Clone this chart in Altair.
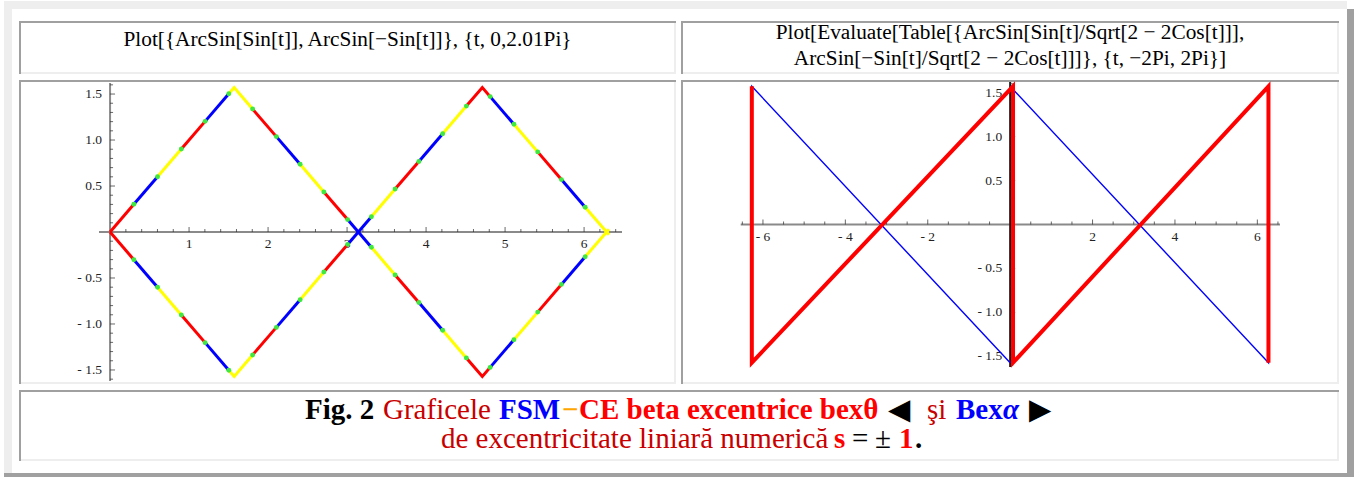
import altair as alt
import pandas as pd

FONT = "Liberation Serif"

# ---------------- panel 1: ArcSin[Sin[t]] and ArcSin[-Sin[t]], t in [0, 2.01 Pi] ----------------
# mesh points (green dots) splitting each curve into 21 shaded pieces
MESH_T = [0.301, 0.601, 0.902, 1.203, 1.503, 1.804, 2.105, 2.406, 2.706, 3.007,
          3.308, 3.608, 3.909, 4.210, 4.510, 4.811, 5.112, 5.413, 5.713, 6.014]
MESH_Y1 = [0.301, 0.601, 0.902, 1.203, 1.503, 1.337, 1.037, 0.736, 0.435, 0.135,
           -0.166, -0.467, -0.767, -1.068, -1.369, -1.472, -1.171, -0.871, -0.570, -0.269]
MESH_Y2 = [-0.301, -0.601, -0.902, -1.203, -1.503, -1.337, -1.037, -0.736, -0.435, -0.135,
           0.166, 0.467, 0.767, 1.068, 1.369, 1.472, 1.171, 0.871, 0.570, 0.269]
# start, corners and end of the two triangle waves
CORNER_T = [0.0, 1.571, 4.712, 6.315]
CORNER_Y1 = [0.0, 1.571, -1.571, 0.031]
CORNER_Y2 = [0.0, -1.571, 1.571, -0.031]
SHADES = ["#ff0000", "#0000ff", "#ffff00"]

P1_XTICKS = [1, 2, 3, 4, 5, 6]
P1_YTICKS = [-1.5, -1.0, -0.5, 0.5, 1.0, 1.5]

# ---------------- panel 2: ArcSin[+/-Sin[t]/Sqrt[2 - 2Cos[t]]], t in [-2Pi, 2Pi] ----------------
# blue: two descending branches (piece 0 and piece 1)
P2_T_BLUE = [-6.27, -6.27, 0.0, 0.0, 6.27, 6.27]
P2_BLUE = [-1.571, 1.571, -1.571, 1.571, -1.571, 1.571]
P2_BLUE_PIECE = [0, 0, 0, 1, 1, 1]
# red: rising branches joined by vertical jumps
P2_T_RED = [-6.27, -6.27, 0.07, 0.07, 6.27, 6.27]
P2_RED = [1.571, -1.571, 1.571, -1.571, 1.571, -1.571]
P2_XTICKS = [-6, -4, -2, 2, 4, 6]
P2_YTICKS = [-1.5, -1.0, -0.5, 0.5, 1.0, 1.5]

# ---------------- texts ----------------
HEADER_1 = ["Plot[{ArcSin[Sin[t]], ArcSin[\u2212Sin[t]]}, {t, 0,2.01Pi}"]
HEADER_2 = ["Plot[Evaluate[Table[{ArcSin[Sin[t]/Sqrt[2 \u2212 2Cos[t]]],",
            "ArcSin[\u2212Sin[t]/Sqrt[2 \u2212 2Cos[t]]]}, {t, \u22122Pi, 2Pi}]"]

CAPTION_1 = ["Fig. 2", "Graficele", "FSM", "\u2212", "CE beta excentrice bex\u03b8",
             "\u25c0", "\u015fi", "Bex", "\u03b1", "\u25b6"]
CAPTION_2 = ["de excentricitate liniar\u0103 numeric\u0103", "s", "=", "\u00b1", "1", "."]

RED, DARKRED, BLUE, BLACK, ORANGE = "#ff0000", "#c80000", "#0000ff", "#000000", "#ffa500"
# (colour, weight, style, left x) for each caption run
CAP1_STYLE = [(BLACK, "bold", "normal", 305), (DARKRED, "normal", "normal", 383),
              (BLUE, "bold", "normal", 499), (ORANGE, "bold", "normal", 562),
              (RED, "bold", "normal", 579), (BLACK, "normal", "normal", 888),
              (DARKRED, "normal", "normal", 927), (BLUE, "bold", "normal", 956),
              (BLUE, "bold", "italic", 1003), (BLACK, "normal", "normal", 1029)]
CAP2_STYLE = [(DARKRED, "normal", "normal", 441), (RED, "bold", "normal", 834),
              (BLACK, "normal", "normal", 852), (BLACK, "normal", "normal", 875),
              (RED, "bold", "normal", 899), (BLACK, "bold", "normal", 915)]
CAP_BASE = [419, 448]

W, H = 1354, 477
LIGHT, DARK = "#eeeeee", "#a0a0a0"
TICK = "#2a2a2a"
AXIS_GREY = "#8a8a8a"
LABEL_SIZE = 13.5


def signed(v, digits):
    s = f"{abs(v):.{digits}f}"
    return "- " + s if v < 0 else s


def minor(lo, hi, step, major_every):
    return [round(i * step, 3) for i in range(lo, hi + 1) if i != 0 and i % major_every != 0]


def axes_layers(xs, ys, xdom, ydom, xticks, yticks, xdig, ydig, xminor, yminor, ycolor):
    """Axes through the origin: lines, inward ticks and labels, all placed by the scales."""
    xline = pd.DataFrame({"a": [xdom[0]], "b": [xdom[1]], "zero": [0.0]})
    yline = pd.DataFrame({"a": [ydom[0]], "b": [ydom[1]], "zero": [0.0]})
    layers = [
        alt.Chart(xline).mark_rule(color=AXIS_GREY, strokeWidth=2).encode(
            x=alt.X("a:Q", scale=xs, axis=None), x2="b:Q",
            y=alt.Y("zero:Q", scale=ys, axis=None)),
        alt.Chart(yline).mark_rule(color=ycolor, strokeWidth=2).encode(
            y=alt.Y("a:Q", scale=ys, axis=None), y2="b:Q",
            x=alt.X("zero:Q", scale=xs, axis=None)),
    ]
    for vals, size in [(xticks, 5), (xminor, 3)]:
        df = pd.DataFrame({"v": vals, "zero": 0.0})
        layers.append(alt.Chart(df).mark_tick(orient="vertical", size=size, thickness=1,
                                              yOffset=-size / 2, color=TICK).encode(
            x=alt.X("v:Q", scale=xs, axis=None), y=alt.Y("zero:Q", scale=ys, axis=None)))
    for vals, size in [(yticks, 5), (yminor, 3)]:
        df = pd.DataFrame({"v": vals, "zero": 0.0})
        layers.append(alt.Chart(df).mark_tick(orient="horizontal", size=size, thickness=1,
                                              xOffset=size / 2, color=TICK).encode(
            y=alt.Y("v:Q", scale=ys, axis=None), x=alt.X("zero:Q", scale=xs, axis=None)))
    xl = pd.DataFrame({"v": xticks, "zero": 0.0, "lab": [signed(v, xdig) for v in xticks]})
    yl = pd.DataFrame({"v": yticks, "zero": 0.0, "lab": [signed(v, ydig) for v in yticks]})
    layers.append(alt.Chart(xl).mark_text(font=FONT, fontSize=LABEL_SIZE, color="#222222",
                                          align="center", baseline="top", dy=5).encode(
        x=alt.X("v:Q", scale=xs, axis=None), y=alt.Y("zero:Q", scale=ys, axis=None),
        text="lab:N"))
    layers.append(alt.Chart(yl).mark_text(font=FONT, fontSize=LABEL_SIZE, color="#222222",
                                          align="right", baseline="middle", dx=-8).encode(
        y=alt.Y("v:Q", scale=ys, axis=None), x=alt.X("zero:Q", scale=xs, axis=None),
        text="lab:N"))
    return layers


# ---------------- panel 1 ----------------
X1_DOM, Y1_DOM = [-0.14, 6.48], [-1.62, 1.62]
X1 = alt.Scale(domain=X1_DOM, range=[99, 622], nice=False, zero=False)
Y1 = alt.Scale(domain=Y1_DOM, range=[381, 83], nice=False, zero=False)


def seg_rows(curve, cy, my):
    bps = [(CORNER_T[0], cy[0])] + list(zip(MESH_T, my)) + [(CORNER_T[-1], cy[-1])]
    inner = list(zip(CORNER_T[1:-1], cy[1:-1]))
    rows = []
    for k in range(len(bps) - 1):
        (ta, ya), (tb, yb) = bps[k], bps[k + 1]
        pts = [(ta, ya)] + [p for p in inner if ta < p[0] < tb] + [(tb, yb)]
        for j, (t, y) in enumerate(pts):
            rows.append({"key": f"{curve}-{k}", "j": j, "t": t, "y": y,
                         "shade": SHADES[k % 3]})
    return rows


seg_df = pd.DataFrame(seg_rows(1, CORNER_Y1, MESH_Y1) + seg_rows(2, CORNER_Y2, MESH_Y2))

p1_lines = alt.Chart(seg_df).mark_line(strokeWidth=3, strokeCap="butt",
                                       strokeJoin="miter").encode(
    x=alt.X("t:Q", scale=X1, axis=None),
    y=alt.Y("y:Q", scale=Y1, axis=None),
    color=alt.Color("shade:N", scale=None),
    detail="key:N",
    order="j:Q",
)

dots_df = pd.DataFrame({"t": MESH_T + MESH_T, "y": MESH_Y1 + MESH_Y2})
p1_dots = alt.Chart(dots_df).mark_circle(size=24, color="#3fe83f", opacity=1).encode(
    x=alt.X("t:Q", scale=X1, axis=None), y=alt.Y("y:Q", scale=Y1, axis=None))

panel1 = alt.layer(
    *axes_layers(X1, Y1, X1_DOM, Y1_DOM, P1_XTICKS, P1_YTICKS, 0, 1,
                 minor(1, 32, 0.2, 5), minor(-16, 16, 0.1, 5), AXIS_GREY),
    p1_lines,
    p1_dots,
)

# ---------------- panel 2 ----------------
X2_DOM, Y2_DOM = [-6.54, 6.55], [-1.62, 1.62]
X2 = alt.Scale(domain=X2_DOM, range=[740.7, 1280], nice=False, zero=False)
Y2 = alt.Scale(domain=Y2_DOM, range=[367, 82], nice=False, zero=False)

blue_df = pd.DataFrame({"t": P2_T_BLUE, "y": P2_BLUE, "piece": P2_BLUE_PIECE,
                        "i": list(range(len(P2_T_BLUE)))})
red_df = pd.DataFrame({"t": P2_T_RED, "y": P2_RED, "i": list(range(len(P2_T_RED)))})

p2_blue = alt.Chart(blue_df).mark_line(color="#0000ff", strokeWidth=1.4).encode(
    x=alt.X("t:Q", scale=X2, axis=None), y=alt.Y("y:Q", scale=Y2, axis=None),
    detail="piece:N", order="i:Q")
p2_red = alt.Chart(red_df).mark_line(color="#ff0000", strokeWidth=4, strokeJoin="miter").encode(
    x=alt.X("t:Q", scale=X2, axis=None), y=alt.Y("y:Q", scale=Y2, axis=None), order="i:Q")

panel2 = alt.layer(
    *axes_layers(X2, Y2, X2_DOM, Y2_DOM, P2_XTICKS, P2_YTICKS, 0, 1,
                 minor(-13, 13, 0.5, 4), minor(-16, 16, 0.1, 5), "#1a1a1a"),
    p2_blue,
    p2_red,
)

# ---------------- page frame and table cells ----------------
frame_rows = [
    (4, 1, 1347, 9, LIGHT), (4, 1, 12, 473, LIGHT),
    (1347, 9, W, H, DARK), (4, 473, W, H, DARK),
]
CELLS = [(19, 21, 676, 74), (681, 21, 1339, 74), (19, 80, 676, 384),
         (681, 80, 1339, 384), (19, 390, 1339, 461)]
for x0, y0, x1, y1 in CELLS:
    frame_rows += [(x0, y1 - 2, x1, y1, LIGHT), (x1 - 2, y0, x1, y1, LIGHT),
                   (x0, y0, x1, y0 + 2, DARK), (x0, y0, x0 + 2, y1, DARK)]
frame_df = pd.DataFrame(frame_rows, columns=["x", "y", "x2", "y2", "c"])
frame = alt.Chart(frame_df).mark_rect().encode(
    x=alt.X("x:Q", scale=None), x2="x2:Q",
    y=alt.Y("y:Q", scale=None), y2="y2:Q",
    color=alt.Color("c:N", scale=None),
)

# ---------------- header texts ----------------
head_df = pd.DataFrame({
    "text": HEADER_1 + HEADER_2,
    "x": [347.5, 1010, 1010],
    "y": [40, 33, 59],
})
headers = alt.Chart(head_df).mark_text(font=FONT, fontSize=21.3, color="#000000",
                                       align="center", baseline="middle").encode(
    x=alt.X("x:Q", scale=None), y=alt.Y("y:Q", scale=None), text="text:N")

# ---------------- caption ----------------
cap_rows = []
for line, (texts, styles) in enumerate([(CAPTION_1, CAP1_STYLE), (CAPTION_2, CAP2_STYLE)]):
    for txt, (col, weight, style, x) in zip(texts, styles):
        cap_rows.append({"text": txt, "c": col, "w": weight, "s": style,
                         "x": x, "y": CAP_BASE[line]})
cap_df = pd.DataFrame(cap_rows)

caption_layers = []
for (weight, style), sub in cap_df.groupby(["w", "s"]):
    caption_layers.append(
        alt.Chart(sub).mark_text(font=FONT, fontSize=29, fontWeight=weight, fontStyle=style,
                                 align="left", baseline="alphabetic").encode(
            x=alt.X("x:Q", scale=None), y=alt.Y("y:Q", scale=None),
            text="text:N", color=alt.Color("c:N", scale=None))
    )

chart = alt.layer(frame, panel1, panel2, headers, *caption_layers).resolve_scale(
    x="independent", y="independent"
).properties(
    width=W, height=H, padding=0, autosize="none", background="white"
).configure_view(stroke=None)

chart.save("out.html", embed_options={"renderer": "svg", "actions": False})
